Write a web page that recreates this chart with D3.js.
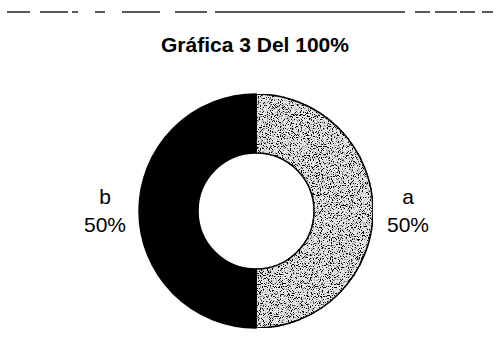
<!DOCTYPE html>
<html>
<head>
<meta charset="utf-8">
<script src="https://cdn.jsdelivr.net/npm/d3@7"></script>
<style>
  body { margin: 0; background: #fff; }
  svg { display: block; font-family: Arial, "Liberation Sans", sans-serif; }
</style>
</head>
<body>
<svg id="chart" width="499" height="357"></svg>
<script>
// chart values
const categories = ["a", "b"];
const values = [50, 50];
const title = "Gráfica 3 Del 100%";

const width = 499, height = 357;
const cx = 256, cy = 211;

var svg = d3.select("#chart");

// speckled texture for the light slice
var defs = svg.append("defs");
var f = defs.append("filter").attr("id", "speckle")
    .attr("x", 0).attr("y", 0).attr("width", 1).attr("height", 1);
f.append("feTurbulence")
    .attr("type", "fractalNoise")
    .attr("baseFrequency", 0.9)
    .attr("numOctaves", 2)
    .attr("seed", 3)
    .attr("result", "noise");
f.append("feColorMatrix")
    .attr("in", "noise")
    .attr("type", "matrix")
    .attr("values", "0 0 0 0 0  0 0 0 0 0  0 0 0 0 0  0 0 0 -9 4.3")
    .attr("result", "dots");
f.append("feComposite")
    .attr("in", "dots").attr("in2", "SourceGraphic")
    .attr("operator", "in").attr("result", "dotsIn");
f.append("feMerge").call(function(m) {
    m.append("feMergeNode").attr("in", "SourceGraphic");
    m.append("feMergeNode").attr("in", "dotsIn");
});

// broken scan line at top
svg.append("line")
    .attr("x1", 7).attr("x2", 493)
    .attr("y1", 12).attr("y2", 12)
    .attr("stroke", "#222")
    .attr("stroke-width", 1.3)
    .attr("stroke-dasharray", "23 10 28 4 6 17 10 17 38 15 32 8 190 10 15 5 22 3 15 7 26");

svg.append("text")
    .attr("x", 255)
    .attr("y", 52)
    .attr("text-anchor", "middle")
    .style("font-size", "21px")
    .style("font-weight", "bold")
    .text(title);

var pie = d3.pie().sort(null).value(function(d) { return d; });
var arc = d3.arc().innerRadius(58).outerRadius(117);
var color = d3.scaleOrdinal().domain(categories).range(["#e6e6e6", "#000"]);

var g = svg.append("g").attr("transform", "translate(" + cx + "," + cy + ")");

g.selectAll("path.slice")
    .data(pie(values))
    .enter()
    .append("path")
    .attr("class", "slice")
    .attr("d", arc)
    .attr("fill", function(d, i) { return color(categories[i]); })
    .attr("filter", function(d, i) { return i === 0 ? "url(#speckle)" : null; })
    .attr("stroke", "#000")
    .attr("stroke-width", 1.5);

// labels outside the ring
var labelX = d3.scaleOrdinal().domain(categories).range([408, 105]);
var total = d3.sum(values);

var lab = svg.selectAll("g.label")
    .data(categories)
    .enter()
    .append("g")
    .attr("class", "label");

lab.append("text")
    .attr("x", function(d) { return labelX(d); })
    .attr("y", 204)
    .attr("text-anchor", "middle")
    .style("font-size", "21px")
    .text(function(d) { return d; });

lab.append("text")
    .attr("x", function(d) { return labelX(d); })
    .attr("y", 232)
    .attr("text-anchor", "middle")
    .style("font-size", "21px")
    .text(function(d, i) { return Math.round(values[i] / total * 100) + "%"; });
</script>
</body>
</html>
